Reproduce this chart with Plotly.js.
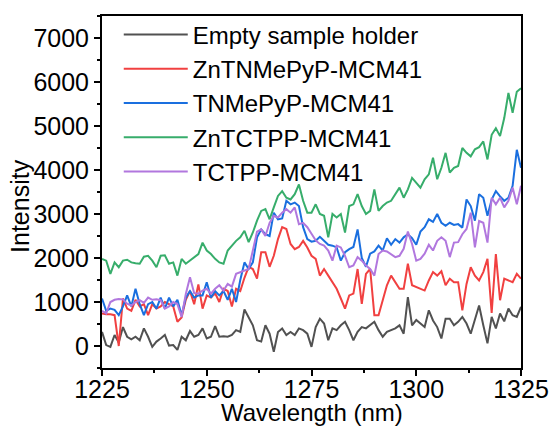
<!DOCTYPE html>
<html>
<head>
<meta charset="utf-8">
<script src="https://cdn.plot.ly/plotly-3.0.1.min.js"></script>
<style>html,body{margin:0;padding:0;background:#fff;}#chart{width:551px;height:428px;}</style>
</head>
<body>
<div id="chart"></div>
<script>
const wavelength = [1225,1226,1227,1228,1229,1230,1231,1232,1233,1234,1235,1236,1237,1238,1239,1240,1241,1242,1243,1244,1245,1246,1247,1248,1249,1250,1251,1252,1253,1254,1255,1256,1257,1258,1259,1260,1261,1262,1263,1264,1265,1266,1267,1268,1269,1270,1271,1272,1273,1274,1275,1276,1277,1278,1279,1280,1281,1282,1283,1284,1285,1286,1287,1288,1289,1290,1291,1292,1293,1294,1295,1296,1297,1298,1299,1300,1301,1302,1303,1304,1305,1306,1307,1308,1309,1310,1311,1312,1313,1314,1315,1316,1317,1318,1319,1320,1321,1322,1323,1324,1325];

const emptyHolder = [320,20,-20,250,80,430,210,150,210,130,
 400,210,-20,100,170,250,10,20,-90,210,
 130,340,210,250,400,170,210,450,210,220,
 210,250,360,320,830,660,470,130,100,470,
 280,-130,320,400,250,320,250,400,360,280,
 -20,430,620,510,130,400,360,470,550,360,
 130,320,430,400,470,550,360,210,320,360,
 400,470,280,1110,470,590,510,430,810,580,
 430,170,620,620,470,550,660,510,280,590,
 920,470,60,660,400,740,560,850,700,660,
 890];

const znTNMePyP = [740,720,720,700,0,1080,850,800,1050,900,
 950,700,950,850,900,1000,950,900,550,650,
 1050,1250,950,1400,850,1150,1100,1200,1000,1300,
 1250,900,1300,1250,1550,1800,1750,1530,2130,2130,
 1800,2050,2430,2700,2660,2320,2200,2250,2390,2240,
 2050,1980,1600,1750,1600,1450,1300,1080,850,1150,
 1190,1750,960,1640,1750,700,700,1040,1380,1600,
 1450,1300,1300,1870,1380,1340,1300,1260,1490,1680,
 1600,1700,1380,1530,1450,1450,810,1410,1790,1600,
 1490,1680,1980,750,2090,1040,1530,1490,1450,1640,
 1530];

const tnMePyP = [1080,800,850,820,700,900,1150,900,1300,950,
 700,950,1000,850,1100,850,1100,900,1050,700,
 1100,1250,1100,1150,1150,1450,1100,1250,1150,1250,
 1050,1300,1000,1500,1900,1750,1900,2470,2650,2540,
 2500,3030,2880,2900,3300,3220,3260,3180,2700,2430,
 2370,2390,2480,2400,2300,2280,2240,1940,2130,2200,
 2250,2650,2000,1800,2100,2150,2280,2170,2450,2300,
 2430,2350,2470,2540,2450,2300,2600,2700,2880,2820,
 3000,2800,2730,2800,2750,2770,2690,3330,3180,2850,
 3450,3370,2960,3330,3520,3400,3300,3370,3640,4460,
 4050];

const znTCTPP = [1980,1940,1640,1900,1790,1940,1960,1900,1880,1870,
 2030,2050,1940,1790,2050,2060,1870,1900,1600,1980,
 1870,1940,2020,2090,2350,2170,2090,1980,1900,1870,
 2170,2280,2390,2470,2620,2360,2580,2850,3070,3110,
 2880,3150,3410,3520,3370,3330,3450,3670,3300,3030,
 3030,3220,3000,2960,2470,3000,2920,3000,2580,3180,
 3220,3450,3180,3000,3070,3560,3070,3180,3260,3300,
 3450,3600,3370,3560,3820,3710,3600,3790,3900,4280,
 3790,4050,4390,3940,4050,4090,4500,4390,4310,4470,
 4520,4650,4240,4800,4950,4770,5180,5750,5300,5780,
 5860];

const tctpp = [800,740,1000,1050,1070,1060,960,920,1000,1040,
 980,1100,1050,1060,1040,850,900,1000,950,660,
 1180,1560,1200,1190,1260,1300,1190,1300,1380,1260,
 1410,1350,1640,1680,1710,1750,2170,2600,2650,2500,
 2800,2960,2920,3030,3110,3030,3150,2770,2800,2700,
 2550,2400,2320,2280,2170,1940,2280,2240,2050,1790,
 1830,2020,1940,1830,1750,1600,2090,2170,2150,2090,
 2020,2050,2210,2600,2320,1940,1980,2100,2300,2170,
 2390,2470,2390,2020,2350,2360,2540,2660,3030,2240,
 2840,2800,2350,3370,3220,3370,3150,3300,3600,3220,
 3640];

const seriesNames = ['Empty sample holder','ZnTNMePyP-MCM41','TNMePyP-MCM41','ZnTCTPP-MCM41','TCTPP-MCM41'];
const seriesValues = [emptyHolder, znTNMePyP, tnMePyP, znTCTPP, tctpp];
const seriesColors = ['#515151','#F14040','#1A6FDF','#37AD6B','#B177DE'];
const xTitle = 'Wavelength (nm)';
const yTitle = 'Intensity';

const traces = seriesValues.map((vals, i) => ({
  x: wavelength, y: vals, name: seriesNames[i], type: 'scatter', mode: 'lines',
  line: {color: seriesColors[i], width: 2}
}));

const fontFam = 'Arial, "Liberation Sans", sans-serif';
const titleFont = {family: fontFam, size: 25, color: '#000'};
const layout = {
  width: 551, height: 428,
  margin: {l: 102, r: 30, t: 14, b: 60},
  paper_bgcolor: '#fff', plot_bgcolor: '#fff',
  font: {family: fontFam, size: 25, color: '#000'},
  showlegend: true,
  legend: {x: 0.04, y: 1.01, xanchor: 'left', yanchor: 'top', bgcolor: 'rgba(0,0,0,0)',
           font: {family: fontFam, size: 24, color: '#000'}, itemwidth: 64, tracegroupgap: 0},
  xaxis: {
    range: [1225, 1325], tickmode: 'linear', tick0: 1225, dtick: 25,
    showgrid: false, zeroline: false, showline: true, mirror: true, linecolor: '#000', linewidth: 2,
    ticks: 'outside', ticklen: 6, tickwidth: 2, tickcolor: '#000', ticklabelstandoff: -8,
    tickfont: {family: fontFam, size: 25, color: '#000'},
    minor: {dtick: 12.5, tick0: 1225, ticks: 'outside', ticklen: 3, tickwidth: 2, tickcolor: '#000', showgrid: false},
    automargin: false
  },
  yaxis: {
    range: [-500, 7500], tickmode: 'linear', tick0: 0, dtick: 1000,
    showgrid: false, zeroline: false, showline: true, mirror: true, linecolor: '#000', linewidth: 2,
    ticks: 'outside', ticklen: 6, tickwidth: 2, tickcolor: '#000',
    tickfont: {family: fontFam, size: 25, color: '#000'},
    minor: {dtick: 500, tick0: 0, ticks: 'outside', ticklen: 3, tickwidth: 2, tickcolor: '#000', showgrid: false},
    automargin: false
  },
  annotations: [
    {text: xTitle, xref: 'paper', yref: 'paper', x: 0.5, y: -0.125, xanchor: 'center', yanchor: 'middle',
     showarrow: false, font: {family: fontFam, size: 24, color: '#000'}},
    {text: yTitle, xref: 'paper', yref: 'paper', x: -0.196, y: 0.46, xanchor: 'center', yanchor: 'middle',
     textangle: -90, showarrow: false, font: titleFont}
  ]
};

Plotly.newPlot('chart', traces, layout, {displayModeBar: false, staticPlot: true});
</script>
</body>
</html>
